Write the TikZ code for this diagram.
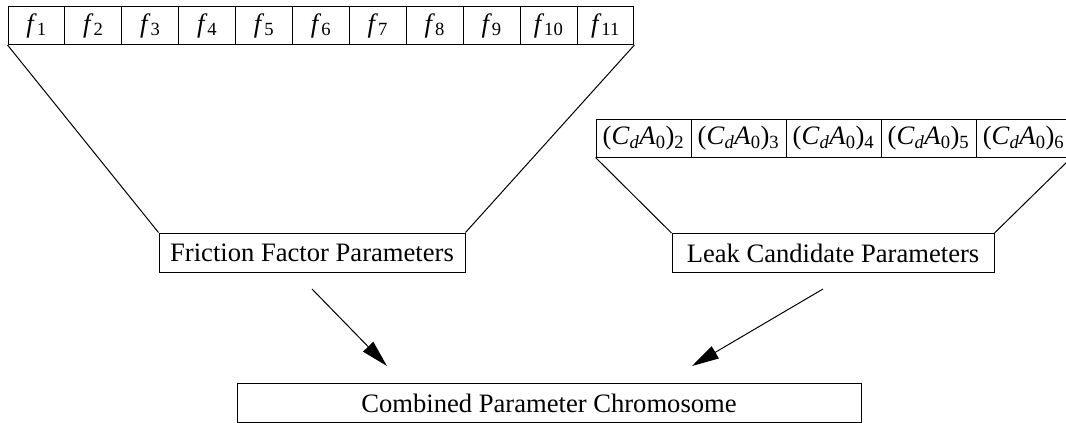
\documentclass[tikz,border=0pt]{standalone}
\usepackage{fontspec}
\setmainfont{Liberation Serif}
\usetikzlibrary{arrows.meta}

\tikzset{
  cellbox/.style={draw, line width=1pt, minimum height=38pt, inner sep=0pt, font=\fontsize{26.6}{30}\selectfont},
  parambox/.style={draw, line width=1pt, minimum height=39pt, inner sep=0pt, font=\fontsize{26.6}{30}\selectfont},
  link/.style={line width=1pt},
  arrowline/.style={line width=1pt, -{Triangle[length=27pt,width=14pt]}}
}

\begin{document}
\begin{tikzpicture}[x=1pt,y=-1pt]
\useasboundingbox (0,0) rectangle (1066,423);
% Draw the friction factor cells
\foreach \i in {1,...,11}
  \node[cellbox, minimum width=56.9pt] (f\i) at ({8+56.9*(\i-0.5)},25.5) {\textit{f}\textsubscript{\i}};
% Draw the leak candidate cells
\foreach \i in {2,...,6}
  \node[cellbox, minimum width=95pt] (c\i) at ({596+95*(\i-1.5)},138) {(\textit{C}\textsubscript{\textit{d}}\textit{A}\textsubscript{0})\textsubscript{\i}};
% Parameter groups
\node[parambox, minimum width=306pt] (fric) at (312,252.5) {Friction Factor Parameters};
\node[parambox, minimum width=322pt] (leak) at (833,253) {Leak Candidate Parameters};
\node[parambox, minimum width=624pt] (comb) at (549,403) {Combined Parameter Chromosome};
% Funnel lines
\draw[link] (f1.south west) -- (fric.north west);
\draw[link] (f11.south east) -- (fric.north east);
\draw[link] (c2.south west) -- (leak.north west);
\draw[link] (c6.south east) -- (leak.north east);
% Arrows into the chromosome
\coordinate (fa) at (312,289);
\coordinate (fb) at (387,366);
\coordinate (la) at (823,289);
\coordinate (lb) at (692,366);
\draw[arrowline] (fa) -- (fb);
\draw[arrowline] (la) -- (lb);
\end{tikzpicture}
\end{document}
